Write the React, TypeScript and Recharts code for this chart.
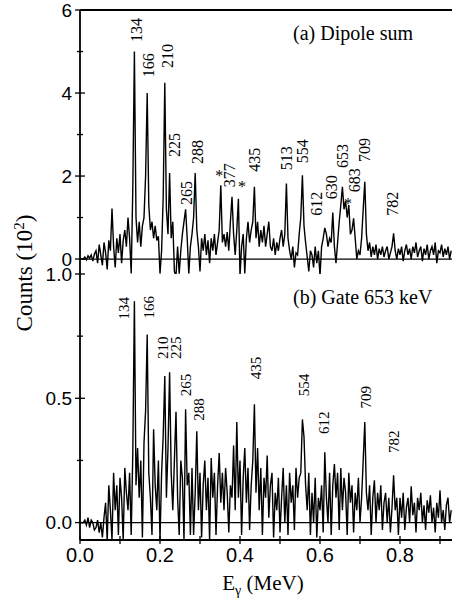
import { LineChart, Line, XAxis, YAxis, ReferenceLine, ReferenceDot } from 'recharts'

// spectra in units of 10^2 counts, one value per 4 keV bin starting at 0 keV
const binKeV = 4

const dipoleSum = [
  0, 0, 0, 0.05, -0.02, 0.08, 0.02, 0.1, -0.05, 0.12,
  0.2, -0.1, 0.35, 0.1, -0.15, 0.4, 0.15, -0.25, 0.45, 0.2,
  1.22, 0.3, -0.2, 0.5, 0.15, 0.6, -0.1, 0.45, 0.7, 0.3,
  1.0, 0.5, -0.35, 1.7, 5.0, 1.0, 0.4, 0.9, 0.3, 0.8,
  1.0, 2.0, 4.0, 1.3, 0.7, 0.9, 0.5, 0.8, 0.45, 0.55,
  -0.35, 0.2, 1.5, 4.25, 1.2, 0.6, 2.07, 0.5, 0.9, -0.3,
  -0.4, 0.3, -0.35, 0.2, 0.6, 0.9, 1.2, 0.5, -0.35, 0.3,
  0.6, 1.0, 2.07, 0.7, 0.3, -0.3, 0.5, 0.2, 0.6, 0.1,
  0.45, -0.1, 0.5, 0.2, 0.6, 0.1, 0.4, 0.7, 1.78, 0.4,
  0.6, 0.3, 0.65, 0.2, 0.9, 1.5, 0.6, 0.1, 0.7, 1.45,
  -0.4, 0.3, 0.6, -0.35, 0.5, 0.9, 0.4, 0.7, 0.9, 1.74,
  0.5, 0.9, 0.3, 0.7, 0.4, 0.8, 0.3, 0.6, 0.9, 0.3,
  0.2, 0.5, 0.1, 0.4, 0.2, 0.5, 0.7, 0.3, 0.6, 1.82,
  0.5, 0.2, 0.0, 0.3, -0.2, 0.15, 0.1, 0.6, 1.0, 2.02,
  0.8, 0.4, 0.05, -0.3, 0.2, 0.1, -0.2, 0.3, -0.1, 0.2,
  -0.4, 0.3, 0.5, 0.75, 0.6, 0.3, 0.5, 0.4, 1.12, 0.3,
  -0.1, 0.4, 0.9, 1.3, 1.74, 1.2, 1.4, 1.0, 1.3, 0.6,
  0.7, 0.98, 0.5, 0.0, 0.2, 0.1, 0.5, 1.2, 1.86, 0.6,
  0.2, 0.4, 0.05, 0.3, 0.1, 0.35, 0.0, 0.25, 0.1, 0.3,
  0.05, 0.2, 0.3, 0.0, 0.15, 0.3, 0.62, 0.2, 0.0, 0.25,
  0.1, 0.3, -0.05, 0.2, 0.35, 0.1, 0.25, 0.0, 0.3, 0.15,
  0.4, 0.05, 0.2, 0.3, -0.05, 0.25, 0.1, 0.35, 0.0, 0.2,
  0.3, 0.1, 0.4, -0.1, 0.2, 0.15, 0.35, 0.05, 0.25, 0.1,
  0.3, 0.0, 0.2,
]

const gate653 = [
  0, 0, 0, 0.01, -0.01, 0.02, -0.02, 0.01, 0.0, -0.03,
  -0.02, 0.01, -0.04, 0.0, -0.06, 0.02, 0.08, -0.07, 0.15, 0.05,
  -0.07, 0.2, 0.05, 0.15, -0.05, 0.18, 0.1, -0.07, 0.22, 0.12,
  0.05, 0.2, -0.05, 0.28, 0.89, 0.15, 0.3, 0.1, 0.25, -0.06,
  0.32, 0.45, 0.757, 0.2, 0.1, -0.05, 0.375, 0.15, 0.05, 0.25,
  -0.07, 0.2, 0.35, 0.59, 0.1, 0.3, 0.605, 0.2, 0.05, 0.25,
  0.446, 0.1, -0.05, 0.25, 0.18, -0.07, 0.456, 0.15, 0.2, -0.05,
  0.22, -0.05, 0.12, 0.367, 0.05, 0.2, -0.06, 0.15, 0.25, 0.05,
  0.18, -0.07, 0.26, 0.1, 0.2, -0.05, 0.15, 0.28, 0.08, 0.2,
  0.05, 0.22, 0.12, -0.04, 0.15, 0.1, 0.31, 0.05, 0.405, 0.1,
  0.25, -0.05, 0.18, 0.3, 0.08, 0.22, -0.03, 0.15, 0.25, 0.476,
  0.12, 0.3, 0.05, 0.22, -0.05, 0.18, 0.1, 0.27, 0.02, 0.15,
  0.2, -0.06, 0.12, 0.05, 0.18, -0.04, 0.1, 0.22, 0.0, 0.15,
  -0.05, 0.2, 0.08, 0.15, -0.03, 0.22, 0.1, 0.18, 0.2, 0.415,
  0.345, 0.15, 0.05, 0.2, -0.05, 0.12, 0.0, 0.18, -0.06, 0.1,
  0.05, 0.15, -0.04, 0.283, 0.1, 0.0, 0.2, -0.05, 0.15, 0.236,
  0.1, 0.2, -0.03, 0.22, 0.05, 0.18, 0.12, -0.05, 0.2, 0.08,
  0.15, -0.04, 0.12, 0.05, 0.18, 0.0, 0.1, 0.25, 0.405, 0.12,
  0.05, 0.15, -0.05, 0.1, 0.17, 0.0, 0.12, 0.05, 0.15, -0.03,
  0.08, 0.12, 0.0, 0.1, -0.04, 0.06, 0.19, 0.05, 0.1, -0.05,
  0.1, 0.02, 0.12, -0.03, 0.06, 0.1, 0.0, 0.146, 0.03, 0.08,
  -0.04, 0.1, 0.05, 0.12, 0.0, 0.07, -0.03, 0.09, 0.04, 0.11,
  0.0, 0.06, -0.04, 0.08, 0.02, 0.13, 0.0, 0.05, -0.03, 0.07,
  0.1, 0.0, 0.05,
]

const xTicks = [0, 0.1, 0.2, 0.3, 0.4, 0.5, 0.6, 0.7, 0.8, 0.9]
const xTickLabels = [0, 0.2, 0.4, 0.6, 0.8]
const topYTicks = [0, 1, 2, 3, 4, 5, 6]
const topYLabels = [0, 2, 4, 6]
const bottomYTicks = [0, 0.25, 0.5, 0.75, 1.0]
const bottomYLabels = [0, 0.5, 1.0]

// peak annotations: label text, energy (MeV), label centre height (10^2 counts)
const dipoleLabels = [
  { text: '134', e: 0.1425, at: 5.52 },
  { text: '166', e: 0.1725, at: 4.67 },
  { text: '210', e: 0.22, at: 4.89 },
  { text: '225', e: 0.2375, at: 2.75 },
  { text: '265', e: 0.2675, at: 1.59 },
  { text: '288', e: 0.295, at: 2.58 },
  { text: '*', e: 0.348, at: 2.1 },
  { text: '377', e: 0.373, at: 2.02 },
  { text: '*', e: 0.405, at: 1.83 },
  { text: '435', e: 0.4375, at: 2.39 },
  { text: '513', e: 0.5175, at: 2.43 },
  { text: '554', e: 0.5575, at: 2.6 },
  { text: '612', e: 0.5925, at: 1.33 },
  { text: '630', e: 0.63, at: 1.73 },
  { text: '653', e: 0.6575, at: 2.48 },
  { text: '*', e: 0.67, at: 1.42 },
  { text: '683', e: 0.6875, at: 1.9 },
  { text: '709', e: 0.7125, at: 2.63 },
  { text: '782', e: 0.7825, at: 1.33 },
]

const gateLabels = [
  { text: '134', e: 0.11, at: 0.862 },
  { text: '166', e: 0.1725, at: 0.866 },
  { text: '210', e: 0.2075, at: 0.703 },
  { text: '225', e: 0.24, at: 0.703 },
  { text: '265', e: 0.265, at: 0.553 },
  { text: '288', e: 0.2975, at: 0.455 },
  { text: '435', e: 0.44, at: 0.622 },
  { text: '554', e: 0.56, at: 0.553 },
  { text: '612', e: 0.61, at: 0.402 },
  { text: '709', e: 0.715, at: 0.504 },
  { text: '782', e: 0.785, at: 0.325 },
]

const serif = '"Liberation Serif", "Times New Roman", serif'
const sans = '"Liberation Sans", Arial, Helvetica, sans-serif'

const toRows = (vals: number[]) => vals.map((v, i) => ({ e: (i * binKeV) / 1000, v }))
const topRows = toRows(dipoleSum)
const bottomRows = toRows(gate653)

const PeakLabel = (props: any) => {
  const { cx, cy, text, size } = props
  if (text === '*') {
    return (
      <text x={cx} y={cy + 9} textAnchor="middle" fontFamily={serif} fontSize={size}>*</text>
    )
  }
  return (
    <text
      x={cx}
      y={cy}
      transform={`rotate(-90 ${cx} ${cy})`}
      textAnchor="middle"
      dominantBaseline="central"
      fontFamily={serif}
      fontSize={size}
    >
      {text}
    </text>
  )
}

// ticks that cross the axis line; labels only where listed
const makeYTick = (labels: number[], fmt: (v: number) => string) => (props: any) => {
  const { x, y, payload } = props
  const axisX = x + 8
  const major = labels.includes(payload.value)
  const half = major ? 5 : 3
  return (
    <g>
      <line x1={axisX - half} x2={axisX + half} y1={y} y2={y} stroke="#000" strokeWidth={1.3} />
      {major && (
        <text x={x} y={y} dy="0.355em" textAnchor="end" fontFamily={sans} fontSize={19} fill="#000">
          {fmt(payload.value)}
        </text>
      )}
    </g>
  )
}

const makeXTick = (showLabels: boolean) => (props: any) => {
  const { x, y, payload } = props
  const axisY = y - 8
  const major = xTickLabels.some((t) => Math.abs(t - payload.value) < 1e-6)
  return (
    <g>
      <line x1={x} x2={x} y1={axisY - 4} y2={axisY + 4} stroke="#000" strokeWidth={1.3} />
      {showLabels && major && (
        <text x={x} y={y} dy="0.71em" textAnchor="middle" fontFamily={sans} fontSize={20} fill="#000">
          {payload.value.toFixed(1)}
        </text>
      )}
    </g>
  )
}

export default function App() {
  return (
    <div style={{ position: 'absolute', left: 0, top: 0, width: 452, height: 607, background: '#fff', overflow: 'hidden' }}>
      <div style={{ position: 'absolute', left: 0, top: 0 }}>
        <LineChart width={452} height={274} data={topRows} margin={{ top: 10, right: 0, left: 0, bottom: 0 }}>
          <XAxis
            dataKey="e"
            type="number"
            domain={[0, 0.93]}
            ticks={xTicks}
            interval={0}
            allowDataOverflow
            height={0}
            tickSize={4}
            tickMargin={4}
            tickLine={false}
            axisLine={{ stroke: '#000', strokeWidth: 1.8 }}
            tick={makeXTick(false)}
          />
          <YAxis
            type="number"
            domain={[-0.36, 6]}
            ticks={topYTicks}
            interval={0}
            allowDataOverflow
            width={80}
            tickSize={5}
            tickMargin={3}
            tickLine={false}
            axisLine={{ stroke: '#000', strokeWidth: 1.8 }}
            tick={makeYTick(topYLabels, (v) => String(v))}
          />
          <ReferenceLine y={6} stroke="#000" strokeWidth={1.8} ifOverflow="visible" />
          <ReferenceLine y={0} stroke="#000" strokeWidth={1.2} />
          <Line type="linear" dataKey="v" stroke="#000" strokeWidth={1.4} dot={false} isAnimationActive={false} />
          {dipoleLabels.map((l, i) => (
            <ReferenceDot
              key={i}
              x={l.e}
              y={l.at}
              r={0}
              ifOverflow="visible"
              shape={(p: any) => <PeakLabel {...p} text={l.text} size={16} />}
            />
          ))}
        </LineChart>
      </div>

      <div style={{ position: 'absolute', left: 0, top: 254 }}>
        <LineChart width={452} height={353} data={bottomRows} margin={{ top: 20, right: 0, left: 0, bottom: 0 }}>
          <XAxis
            dataKey="e"
            type="number"
            domain={[0, 0.93]}
            ticks={xTicks}
            interval={0}
            allowDataOverflow
            height={67}
            tickSize={4}
            tickMargin={4}
            tickLine={false}
            axisLine={{ stroke: '#000', strokeWidth: 1.8 }}
            tick={makeXTick(true)}
          />
          <YAxis
            type="number"
            domain={[-0.07, 1.0]}
            ticks={bottomYTicks}
            interval={0}
            allowDataOverflow
            width={80}
            tickSize={5}
            tickMargin={3}
            tickLine={false}
            axisLine={{ stroke: '#000', strokeWidth: 1.8 }}
            tick={makeYTick(bottomYLabels, (v) => v.toFixed(1))}
          />
          <ReferenceLine y={0} stroke="#000" strokeWidth={1.2} />
          <Line type="linear" dataKey="v" stroke="#000" strokeWidth={1.4} dot={false} isAnimationActive={false} />
          {gateLabels.map((l, i) => (
            <ReferenceDot
              key={i}
              x={l.e}
              y={l.at}
              r={0}
              ifOverflow="visible"
              shape={(p: any) => <PeakLabel {...p} text={l.text} size={15} />}
            />
          ))}
        </LineChart>
      </div>

      <svg width={452} height={607} style={{ position: 'absolute', left: 0, top: 0, pointerEvents: 'none' }}>
        <text x={293} y={40} fontFamily={serif} fontSize={20} fill="#000">(a) Dipole sum</text>
        <text x={293} y={304} fontFamily={serif} fontSize={20} fill="#000">(b) Gate 653 keV</text>
        <text transform="translate(32,273) rotate(-90)" textAnchor="middle" fontFamily={serif} fontSize={23} fill="#000">
          Counts (10<tspan dy={-8} fontSize={15}>2</tspan><tspan dy={8}>)</tspan>
        </text>
        <text x={263} y={590} textAnchor="middle" fontFamily={serif} fontSize={21} fill="#000">
          E<tspan dy={5} fontSize={14}>γ</tspan><tspan dy={-5}> (MeV)</tspan>
        </text>
      </svg>
    </div>
  )
}
